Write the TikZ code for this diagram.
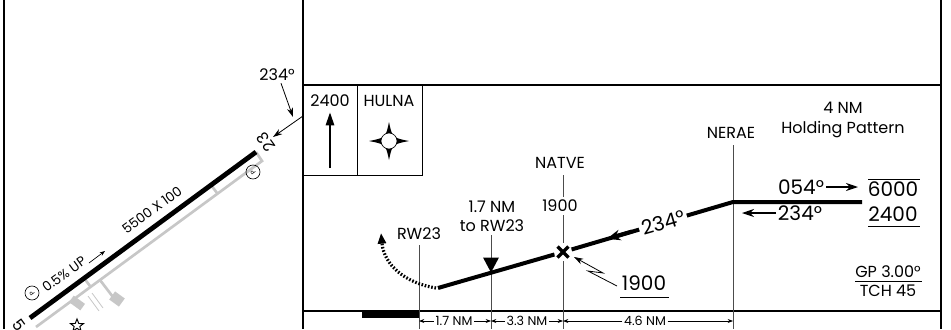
\documentclass[tikz,border=0pt]{standalone}
\usepackage{fontspec}
\setmainfont{Poppins}
\usetikzlibrary{arrows.meta}

\begin{document}
\begin{tikzpicture}[x=0.75pt, y=-0.75pt,
    lbl/.style={inner sep=0pt, font=\fontsize{12}{14.5}\selectfont},
    biglbl/.style={inner sep=0pt, font=\fontsize{15}{17}\selectfont},
    distlbl/.style={inner sep=1pt, font=\fontsize{9.5}{10}\selectfont},
    rwylbl/.style={inner sep=0pt, font=\fontsize{10}{11}\selectfont},
    frame/.style={line width=1.6pt},
    fixline/.style={line width=0.6pt, black!70},
    track/.style={line width=3pt},
    pave/.style={black!22, line width=2pt},
    dist/.style={line width=0.5pt, -{Stealth[length=4pt, width=3pt]}},
    lead/.style={line width=0.6pt, -{Stealth[length=7pt, width=4.5pt]}},
    parking/.style={draw, circle, line width=0.5pt, inner sep=0pt, minimum size=10.5pt, font=\fontsize{5}{5}\selectfont}]
\useasboundingbox (0,0) rectangle (951,329);
\coordinate (bot) at (0,329);

% frame
\draw[frame] (4,0) -- (4,329);
\draw[frame] (303,0) -- (303,329);
\draw[frame] (941,0) -- (941,329);
\draw[frame] (303,85) -- (941,85);
\draw[line width=0.8pt] (303,311) -- (941,311);

% airport sketch
\coordinate (rwy5) at (30,318);
\coordinate (rwy23) at (256,152);
\draw[pave] (36,327) -- (262,161) -- (rwy23);
\draw[pave] (211,185) -- (217,193);
\draw[pave] (84,278) -- (90,286);
\draw[pave] (100,280) -- (113,297);
\fill[black!22, rotate around={-36:(117,299)}] (111,294) rectangle (123,304);
\fill[black!22, rotate around={-36:(77,303)}] (70,299) rectangle (84,307);
\draw[black!22, line width=0.6pt] (88,296) -- (99,311) (92,293) -- (103,308);
\draw[line width=3.6pt] (rwy5) -- (rwy23);
\node[rwylbl, rotate=36] (rwydim) at (152,210) {5500 X 100};
\node[rwylbl, rotate=36] (slope) at (64,274) {0.5\% UP};
\draw[line width=0.5pt, -{Stealth[length=4pt, width=3pt]}] (89,263) -- (105,251);
\node[parking] (p5) at (32,293) {\rotatebox{126}{P}};
\node[parking] (p23) at (253,172) {\rotatebox{126}{P}};
\node[lbl, rotate=126] (num23) at (266,142) {23};
\node[lbl, rotate=-54] (num5) at (19,325) {5};
\draw[line width=0.7pt] (77,319) -- (78.8,323.5) -- (83.5,323.6) -- (79.8,326.5) -- (81.1,331)
  -- (77,328.3) -- (72.9,331) -- (74.2,326.5) -- (70.5,323.6) -- (75.2,323.5) -- cycle;
\node[lbl] (crs) at (277,75) {234°};
\coordinate (crstip) at (293,117);
\coordinate (appr) at (303,116);
\draw[lead] (crs.south) ++(4,2) -- (crstip);
\draw[lead] (appr) -- (273,137);

% IAF box
\draw[line width=0.7pt] (303,175) -- (422,175) -- (422,85) (357,85) -- (357,175);
\node[lbl] (iafalt) at (330,101) {2400};
\draw[line width=2pt, -{Triangle[length=10pt, width=6pt]}] (330,168) -- (330,112);
\node[lbl] (iafname) at (389,101) {HULNA};
\coordinate (hulna) at (389,141);
\fill ([shift={(0,-19)}]hulna) .. controls ([shift={(3.3,-3.3)}]hulna) .. ([shift={(20,0)}]hulna)
  .. controls ([shift={(3.3,3.3)}]hulna) .. ([shift={(0,19)}]hulna)
  .. controls ([shift={(-3.3,3.3)}]hulna) .. ([shift={(-20,0)}]hulna)
  .. controls ([shift={(-3.3,-3.3)}]hulna) .. cycle;
\draw[fill=white, line width=0.5pt] (hulna) circle (8);

% fixes
\coordinate (rw) at (419,245);
\coordinate (vdp) at (491,272.5);
\coordinate (natve) at (563,252);
\coordinate (nerae) at (733,202);
\coordinate (hold) at (862,202);
\draw[fixline] (rw) -- (rw |- bot);
\draw[fixline] (491,235) -- (vdp |- bot);
\draw[fixline] (563,175) -- (natve |- bot);
\draw[fixline] (733,145) -- (nerae |- bot);
\node[lbl] (rwname) at (419,234) {RW23};
\node[lbl, align=center] (vdpname) at (492,216) {1.7 NM\\to RW23};
\node[lbl] (natvename) at (560,163) {NATVE};
\node[lbl, fill=white, inner sep=2pt] (natvealt) at (560,206) {1900};
\node[lbl] (neraename) at (731,133) {NERAE};

% profile
\draw[line width=2.4pt, dash pattern=on 1.2pt off 1.3pt, -{Triangle[length=8pt, width=6pt]}]
  (436,288) .. controls (405,283) and (384,265) .. (381,233);
\draw[track] (438,288) -- (natve) -- (nerae) -- (hold);
\fill ([shift={(-8,-15)}]vdp) -- ([shift={(8,-15)}]vdp) -- (vdp) -- cycle;
\fill[white] (natve) circle (9);
\draw[line width=2.4pt] ([shift={(-5.5,-5.5)}]natve) -- ([shift={(5.5,5.5)}]natve)
  ([shift={(-5.5,5.5)}]natve) -- ([shift={(5.5,-5.5)}]natve);
\node[biglbl, fill=white, inner sep=2pt, rotate=16.3] (trkcrs) at (663,222.6) {234°};
\draw[track, -{Stealth[length=10pt, width=8pt]}] (632,231.5) -- (607,238.8);
\node[biglbl] (fafalt) at (644,283) {1900};
\draw[line width=0.6pt] (620,297) -- (669,297);
\draw[line width=0.6pt, -{Stealth[length=7pt, width=4.5pt]}] (617,286) -- (588,271) -- (603,273) -- (574,257);

% holding
\node[lbl, align=center] (holdname) at (843,120) {4 NM\\Holding Pattern};
\node[biglbl] (outcrs) at (801,187) {054°};
\draw[line width=0.8pt, -{Stealth[length=9pt, width=6pt]}] (826,187) -- (858,187);
\node[biglbl] (incrs) at (800,213) {234°};
\draw[line width=0.8pt, -{Stealth[length=9pt, width=6pt]}] (776,213) -- (742,213);
\node[biglbl] (maxalt) at (893,189) {6000};
\draw[line width=0.6pt] (868,179) -- (920,179);
\node[biglbl] (minalt) at (893,214) {2400};
\draw[line width=0.6pt] (868,226) -- (920,226);
\node[lbl] (gp) at (888,272) {GP 3.00°};
\draw[line width=0.6pt] (855,281) -- (922,281);
\node[lbl] (tch) at (888,291) {TCH 45};

% distances
\fill (362,311) rectangle (419,318);
\node[distlbl, fill=white] (d1) at (454,321) {1.7 NM};
\draw[dist] (d1.west) -- (rw |- d1);
\draw[dist] (d1.east) -- (vdp |- d1);
\node[distlbl, fill=white] (d2) at (527,321) {3.3 NM};
\draw[dist] (d2.west) -- (vdp |- d2);
\draw[dist] (d2.east) -- (natve |- d2);
\node[distlbl, fill=white] (d3) at (645,321) {4.6 NM};
\draw[dist] (d3.west) -- (natve |- d3);
\draw[dist] (d3.east) -- (nerae |- d3);
\end{tikzpicture}
\end{document}
